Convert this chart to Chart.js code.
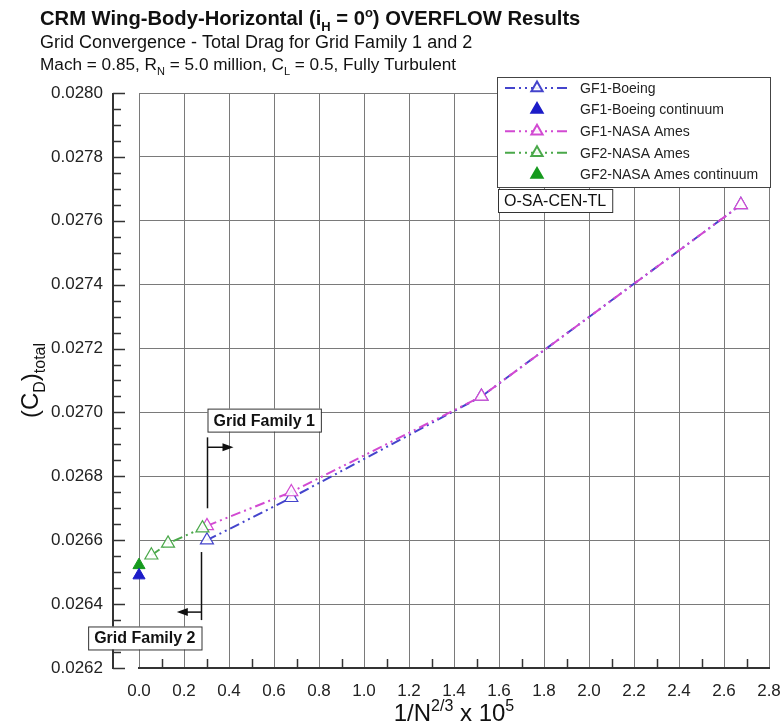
<!DOCTYPE html>
<html>
<head>
<meta charset="utf-8">
<script src="https://cdn.jsdelivr.net/npm/chart.js@4/dist/chart.umd.min.js"></script>
<style>
  html, body { margin: 0; padding: 0; background: #fff; }
  #wrap { width: 781px; height: 726px; }
</style>
</head>
<body>
<div id="wrap"><canvas id="chart" width="781" height="726"></canvas></div>
<script>
// --- data ---
const boeingX = [0.302, 0.677, 1.522, 2.675];
const boeingCd = [0.02660, 0.026733, 0.02705, 0.02765];
const amesGf1X = [0.302, 0.677, 1.522, 2.675];
const amesGf1Cd = [0.026645, 0.026751, 0.02705, 0.02765];
const amesGf2X = [0.055, 0.129, 0.282];
const amesGf2Cd = [0.026553, 0.02659, 0.026638];
const boeingContX = [0.0];
const boeingContCd = [0.02649];
const amesGf2ContX = [0.0];
const amesGf2ContCd = [0.026522];

const seriesNames = ["GF1-Boeing", "GF1-Boeing continuum", "GF1-NASA Ames", "GF2-NASA Ames", "GF2-NASA Ames continuum"];
const xMin = 0.0, xMax = 2.8, xStep = 0.2;
const yMin = 0.0262, yMax = 0.0280, yStep = 0.0002;

const FONT = '"Liberation Sans", Arial, Helvetica, sans-serif';
const DASH = [10, 4, 2, 4, 2, 4];

const toPts = (xs, ys) => xs.map((x, i) => ({ x: x, y: ys[i] }));

// text with sub / superscripts, returns the width
function richText(ctx, parts, x, y, size, weight, measureOnly, ratio) {
  const r = ratio || 0.62;
  let cx = x;
  parts.forEach(([t, k]) => {
    const s = k === "n" ? size : Math.round(size * r);
    ctx.font = `${weight} ${s}px ${FONT}`;
    const dy = k === "sub" ? size * 0.28 : k === "sup" ? -size * 0.42 : 0;
    if (!measureOnly) ctx.fillText(t, cx, y + dy);
    cx += ctx.measureText(t).width;
  });
  return cx - x;
}

function textBox(ctx, text, x, y, size, weight, pad) {
  ctx.font = `${weight} ${size}px ${FONT}`;
  const w = ctx.measureText(text).width + 2 * pad;
  const h = size + 7;
  ctx.fillStyle = "#fff";
  ctx.fillRect(x, y, w, h);
  ctx.strokeStyle = "#333";
  ctx.lineWidth = 1;
  ctx.strokeRect(x + 0.5, y + 0.5, w, h);
  ctx.fillStyle = "#111";
  ctx.textBaseline = "middle";
  ctx.fillText(text, x + pad, y + h / 2 + 1);
  return w;
}

function arrow(ctx, x1, y, x2) {
  const dir = Math.sign(x2 - x1);
  ctx.beginPath();
  ctx.moveTo(x1, y);
  ctx.lineTo(x2 - dir * 8, y);
  ctx.stroke();
  ctx.beginPath();
  ctx.moveTo(x2, y);
  ctx.lineTo(x2 - dir * 11, y - 4);
  ctx.lineTo(x2 - dir * 11, y + 4);
  ctx.closePath();
  ctx.fill();
}

const decorPlugin = {
  id: "decor",
  afterDraw(chart) {
    const ctx = chart.ctx;
    const area = chart.chartArea;
    const xs = chart.scales.x;
    const ys = chart.scales.y;
    ctx.save();

    // detached y axis with major / minor ticks
    const axX = area.left - 26;
    ctx.strokeStyle = "#333";
    ctx.lineWidth = 2;
    ctx.beginPath();
    ctx.moveTo(axX, area.top);
    ctx.lineTo(axX, area.bottom + 1);
    ctx.stroke();
    ctx.lineWidth = 1.5;
    for (let i = 0; i <= Math.round((yMax - yMin) / (yStep / 4)); i++) {
      const v = yMin + i * yStep / 4;
      const py = Math.round(ys.getPixelForValue(v)) + 0.5;
      const len = i % 4 === 0 ? 12 : 8;
      ctx.beginPath();
      ctx.moveTo(axX, py);
      ctx.lineTo(axX + len, py);
      ctx.stroke();
    }
    // minor ticks on x axis
    for (let v = xMin + xStep / 2; v < xMax; v += xStep) {
      const px = Math.round(xs.getPixelForValue(v)) + 0.5;
      ctx.beginPath();
      ctx.moveTo(px, area.bottom);
      ctx.lineTo(px, area.bottom - 9);
      ctx.stroke();
    }

    // titles
    ctx.fillStyle = "#111";
    ctx.textAlign = "left";
    ctx.textBaseline = "alphabetic";
    richText(ctx, [["CRM Wing-Body-Horizontal (i", "n"], ["H", "sub"], [" = 0", "n"], ["o", "sup"], [") OVERFLOW Results", "n"]], 40, 25, 20.2, "bold");
    richText(ctx, [["Grid Convergence - Total Drag for Grid Family 1 and 2", "n"]], 40, 48, 18, "normal");
    richText(ctx, [["Mach = 0.85, R", "n"], ["N", "sub"], [" = 5.0 million, C", "n"], ["L", "sub"], [" = 0.5, Fully Turbulent", "n"]], 40, 70, 17.2, "normal");

    // axis titles
    const xt = [["1/N", "n"], ["2/3", "sup"], [" x 10", "n"], ["5", "sup"]];
    const xw = richText(ctx, xt, 0, 0, 24, "normal", true, 0.66);
    richText(ctx, xt, (area.left + area.right) / 2 - xw / 2, 721, 24, "normal", false, 0.66);
    const yt = [["(C", "n"], ["D", "sub"], [")", "n"], ["total", "sub"]];
    const yw = richText(ctx, yt, 0, 0, 24, "normal", true, 0.68);
    ctx.save();
    ctx.translate(38, (area.top + area.bottom) / 2);
    ctx.rotate(-Math.PI / 2);
    richText(ctx, yt, -yw / 2, 0, 24, "normal", false, 0.68);
    ctx.restore();

    // legend
    const lx = 497, ly = 77, lw = 273, lh = 110;
    ctx.fillStyle = "#fff";
    ctx.fillRect(lx, ly, lw, lh);
    ctx.strokeStyle = "#444";
    ctx.lineWidth = 1;
    ctx.strokeRect(lx + 0.5, ly + 0.5, lw, lh);
    chart.data.datasets.forEach((ds, i) => {
      const ry = ly + 11 + i * 21.6;
      if (ds.showLine) {
        ctx.strokeStyle = ds.borderColor;
        ctx.lineWidth = 2;
        ctx.setLineDash(DASH);
        ctx.beginPath();
        ctx.moveTo(lx + 8, ry);
        ctx.lineTo(lx + 74, ry);
        ctx.stroke();
        ctx.setLineDash([]);
      }
      ctx.strokeStyle = ds.pointBorderColor;
      ctx.fillStyle = ds.pointBackgroundColor;
      Chart.helpers.drawPoint(ctx, { pointStyle: "triangle", radius: 6.5, rotation: 0, borderWidth: 1.2 }, lx + 40, ry);
      ctx.fillStyle = "#222";
      ctx.font = `14px ${FONT}`;
      ctx.textBaseline = "middle";
      ctx.fillText(ds.label, lx + 83, ry + 1);
    });

    // case label
    textBox(ctx, "O-SA-CEN-TL", 498, 189, 16, "normal", 6);

    // grid family brackets
    ctx.strokeStyle = "#111";
    ctx.fillStyle = "#111";
    ctx.lineWidth = 1.5;
    const g1 = Math.round(xs.getPixelForValue(boeingX[0])) + 0.5;
    ctx.beginPath();
    ctx.moveTo(g1, ys.getPixelForValue(0.026922));
    ctx.lineTo(g1, ys.getPixelForValue(0.026700));
    ctx.stroke();
    arrow(ctx, g1, ys.getPixelForValue(0.026891), xs.getPixelForValue(0.42));
    textBox(ctx, "Grid Family 1", g1, ys.getPixelForValue(0.027012), 16, "bold", 6);

    const g2 = Math.round(xs.getPixelForValue(0.277)) + 0.5;
    ctx.strokeStyle = "#111";
    ctx.fillStyle = "#111";
    ctx.lineWidth = 1.5;
    ctx.beginPath();
    ctx.moveTo(g2, ys.getPixelForValue(0.026563));
    ctx.lineTo(g2, ys.getPixelForValue(0.026350));
    ctx.stroke();
    arrow(ctx, g2, ys.getPixelForValue(0.026375), xs.getPixelForValue(0.168));
    ctx.font = `bold 16px ${FONT}`;
    const w2 = ctx.measureText("Grid Family 2").width + 12;
    textBox(ctx, "Grid Family 2", g2 - w2, ys.getPixelForValue(0.026330), 16, "bold", 6);

    ctx.restore();
  }
};

const lineSet = (label, xsArr, ysArr, color) => ({
  label: label,
  data: toPts(xsArr, ysArr),
  showLine: true,
  borderColor: color,
  borderWidth: 2,
  borderDash: DASH,
  pointStyle: "triangle",
  pointRadius: 7.5,
  pointBorderWidth: 1.2,
  pointBorderColor: color,
  pointBackgroundColor: "rgba(255,255,255,0.9)",
  clip: false
});
const contSet = (label, xsArr, ysArr, color) => ({
  label: label,
  data: toPts(xsArr, ysArr),
  showLine: false,
  borderColor: color,
  pointStyle: "triangle",
  pointRadius: 7,
  pointBorderWidth: 1,
  pointBorderColor: color,
  pointBackgroundColor: color,
  clip: false
});

const datasets = [
  lineSet(seriesNames[0], boeingX, boeingCd, "#4444cc"),
  contSet(seriesNames[1], boeingContX, boeingContCd, "#1c1cc8"),
  lineSet(seriesNames[2], amesGf1X, amesGf1Cd, "#d24ad2"),
  lineSet(seriesNames[3], amesGf2X, amesGf2Cd, "#4aa84a"),
  contSet(seriesNames[4], amesGf2ContX, amesGf2ContCd, "#169a1e")
];
datasets[0].order = 3;
datasets[2].order = 2;
datasets[3].order = 1;

new Chart(document.getElementById("chart"), {
  type: "scatter",
  data: { datasets: datasets },
  options: {
    responsive: false,
    animation: false,
    devicePixelRatio: 1,
    layout: { padding: { top: 93, right: 0, left: 0, bottom: 0 } },
    plugins: {
      legend: { display: false },
      tooltip: { enabled: false },
      title: { display: false }
    },
    scales: {
      x: {
        type: "linear",
        min: xMin,
        max: xMax,
        ticks: {
          stepSize: xStep,
          color: "#222",
          font: { family: FONT, size: 17 },
          padding: 13,
          callback: (v) => v.toFixed(1)
        },
        grid: { color: "#7a7a7a", lineWidth: 1, drawTicks: false },
        border: { display: true, color: "#333", width: 2 },
        afterFit: (s) => { s.height = 58; s.paddingLeft = 0; s.paddingRight = 12; }
      },
      y: {
        type: "linear",
        min: yMin,
        max: yMax,
        ticks: {
          stepSize: yStep,
          color: "#222",
          font: { family: FONT, size: 17 },
          padding: 36,
          callback: (v) => v.toFixed(4)
        },
        grid: { color: "#7a7a7a", lineWidth: 1, drawTicks: false },
        border: { display: false },
        afterFit: (s) => { s.width = 139; s.paddingTop = 0; s.paddingBottom = 0; }
      }
    }
  },
  plugins: [decorPlugin]
});
</script>
</body>
</html>
